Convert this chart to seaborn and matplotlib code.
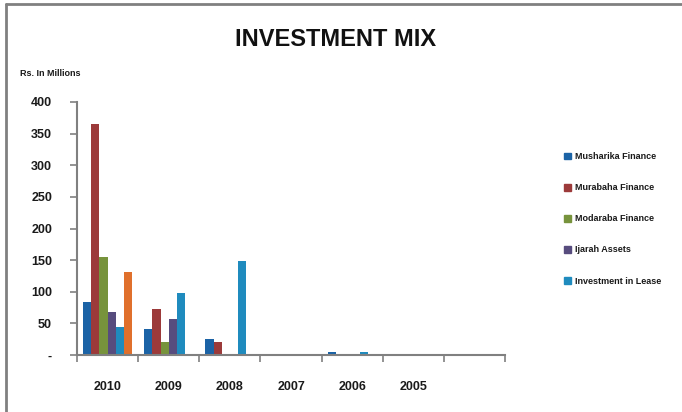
import matplotlib
matplotlib.use("Agg")
import matplotlib.pyplot as plt
import matplotlib.lines as mlines
import matplotlib.patches as mpatches
import seaborn as sns
import pandas as pd
import numpy as np

years = ["2010", "2009", "2008", "2007", "2006", "2005"]
series = ["Musharika Finance", "Murabaha Finance", "Modaraba Finance",
          "Ijarah Assets", "Investment in Lease", "Others"]
musharika = [84, 41, 26, 0, 4, 0]
murabaha = [365, 72, 21, 0, 0, 0]
modaraba = [155, 21, 0, 0, 0, 0]
ijarah = [68, 57, 0, 0, 0, 0]
lease = [45, 98, 148, 0, 4, 2]
others = [132, 0, 0, 0, 0, 0]
legend_series = series[:5]
colors = ["#1B63A6", "#9C3A3A", "#77933C", "#574C7E", "#1F8BBE", "#E0702C"]
yticks = [0, 50, 100, 150, 200, 250, 300, 350, 400]
yticklabels = ["-", "50", "100", "150", "200", "250", "300", "350", "400"]

rows = []
for name, vals in zip(series, [musharika, murabaha, modaraba, ijarah, lease, others]):
    for y, v in zip(years, vals):
        rows.append({"Year": y, "Series": name, "Value": v})
df = pd.DataFrame(rows)

sns.set_theme(style="white")
plt.rcParams["font.family"] = ["Liberation Sans", "DejaVu Sans"]

fig = plt.figure(figsize=(6.82, 4.12), dpi=100)
ax = fig.add_axes([77 / 682, 1 - 355 / 412, (505 - 77) / 682, (355 - 102) / 412])

sns.barplot(data=df, x="Year", y="Value", hue="Series", order=years,
            hue_order=series, palette=colors, width=0.8, saturation=1,
            linewidth=0, ax=ax, legend=False, errorbar=None)

ax.set_xlim(-0.5, 6.5)
ax.set_ylim(0, 400)
ax.set_xlabel("")
ax.set_ylabel("")
ax.set_yticks(yticks)
ax.set_yticklabels(yticklabels, fontsize=9, fontweight="bold", color="#1a1a1a")
ax.set_xticks(range(len(years)))
ax.set_xticklabels(years, fontsize=9, fontweight="bold", color="#1a1a1a")
ax.tick_params(axis="x", which="major", length=0, pad=19)
ax.set_xticks(np.arange(-0.5, 7, 1), minor=True)
ax.tick_params(axis="x", which="minor", length=5, width=1.2, color="#808080", bottom=True)
ax.tick_params(axis="y", length=5, width=1.2, color="#808080", left=True, pad=13)
for s in ["top", "right"]:
    ax.spines[s].set_visible(False)
for s in ["left", "bottom"]:
    ax.spines[s].set_color("#808080")
    ax.spines[s].set_linewidth(1.5)
ax.grid(False)

handles = [mpatches.Patch(color=c, label=n) for c, n in zip(colors[:5], legend_series)]
leg = fig.legend(handles=handles, loc="upper left", bbox_to_anchor=(556 / 682, 1 - 144 / 412),
                 frameon=False, prop={"size": 6.5, "weight": "bold"},
                 handlelength=0.8, handleheight=0.8, handletextpad=0.4,
                 labelspacing=2.45)
for t in leg.get_texts():
    t.set_color("#1a1a1a")

fig.text(336 / 682, 1 - 40 / 412, "INVESTMENT MIX", ha="center", va="center",
         fontsize=17, fontweight="bold", color="#111111")
fig.text(20 / 682, 1 - 73 / 412, "Rs. In Millions", ha="left", va="center",
         fontsize=6.5, fontweight="bold", color="#1a1a1a")

fig.add_artist(mlines.Line2D([6 / 682, 1], [1 - 4 / 412, 1 - 4 / 412],
                             transform=fig.transFigure, color="#808080", lw=2))
fig.add_artist(mlines.Line2D([6 / 682, 6 / 682], [0, 1 - 4 / 412],
                             transform=fig.transFigure, color="#808080", lw=2))

fig.savefig("out.png", dpi=100)
